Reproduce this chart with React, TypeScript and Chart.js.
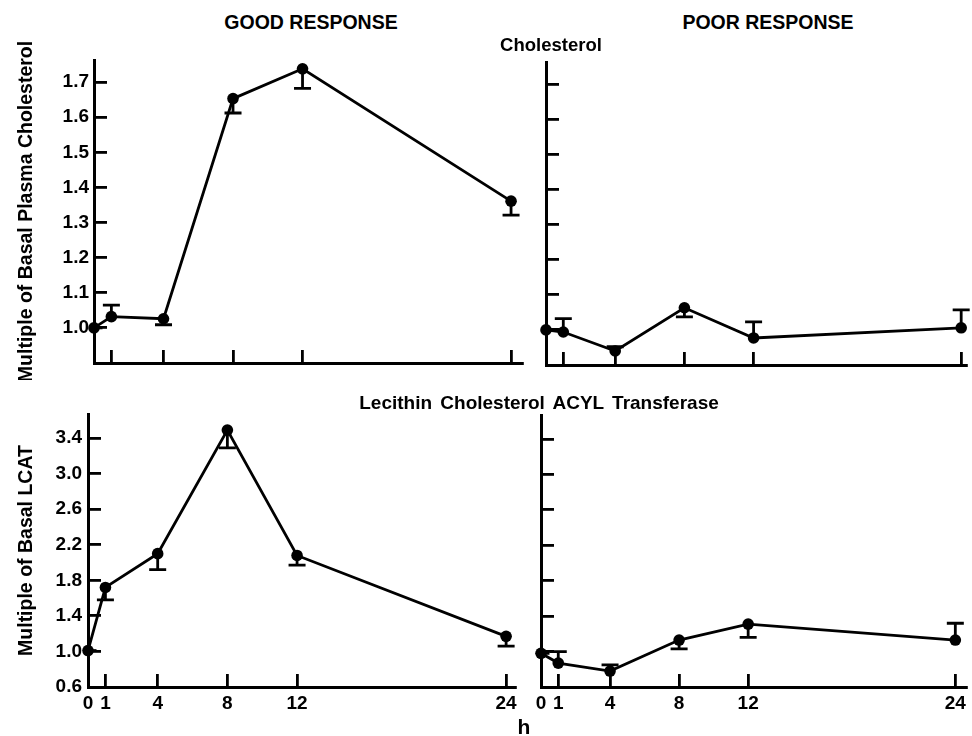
import React, { useEffect, useRef } from "react";
import { Chart, registerables } from "chart.js";

Chart.register(...registerables);

const FONT = "'Liberation Sans', Arial, Helvetica, sans-serif";

// ---- data ----
const hours = [0, 1, 4, 8, 12, 24];
const hourTicks = [0, 1, 4, 8, 12, 24];
const cholTicks = [1.0, 1.1, 1.2, 1.3, 1.4, 1.5, 1.6, 1.7];
const lcatTicks = [0.6, 1.0, 1.4, 1.8, 2.2, 2.6, 3.0, 3.4];

const cholGood = [1.0, 1.032, 1.026, 1.653, 1.738, 1.361];
const cholGoodErr = [0, 0.033, -0.017, -0.041, -0.056, -0.04];
const cholPoor = [1.0, 0.994, 0.94, 1.063, 0.977, 1.006];
const cholPoorErr = [0, 0.038, 0.012, -0.026, 0.046, 0.051];
const lcatGood = [1.01, 1.72, 2.1, 3.49, 2.08, 1.17];
const lcatGoodErr = [0, -0.14, -0.18, -0.2, -0.11, -0.11];
const lcatPoor = [0.98, 0.87, 0.78, 1.13, 1.31, 1.13];
const lcatPoorErr = [0, 0.13, 0.07, -0.1, -0.15, 0.19];

type Panel = {
  left: number; top: number; width: number; height: number;
  yAxisWidth: number; xAxisHeight: number; padTop: number; padRight: number;
  xMax: number; yMin: number; yMax: number; yTicks: number[];
  values: number[]; errors: number[];
  showYLabels: boolean; showXLabels: boolean; yTitle?: string;
  yLabelPad: number;
};

const panels: Panel[] = [
  {
    left: 0, top: 40, width: 535, height: 340, yAxisWidth: 94, xAxisHeight: 17, padTop: 20, padRight: 13,
    xMax: 24.63, yMin: 0.9, yMax: 1.763, yTicks: cholTicks, values: cholGood, errors: cholGoodErr,
    showYLabels: true, showXLabels: false, yTitle: "Multiple of Basal Plasma Cholesterol", yLabelPad: 18,
  },
  {
    left: 520, top: 42, width: 452, height: 338, yAxisWidth: 26, xAxisHeight: 15, padTop: 20, padRight: 1,
    xMax: 24.29, yMin: 0.9, yMax: 1.763, yTicks: cholTicks, values: cholPoor, errors: cholPoorErr,
    showYLabels: false, showXLabels: false, yLabelPad: 18,
  },
  {
    left: 0, top: 394, width: 530, height: 342, yAxisWidth: 88, xAxisHeight: 49, padTop: 20, padRight: 15,
    xMax: 24.51, yMin: 0.6, yMax: 3.671, yTicks: lcatTicks, values: lcatGood, errors: lcatGoodErr,
    showYLabels: true, showXLabels: true, yTitle: "Multiple of Basal LCAT", yLabelPad: 19,
  },
  {
    left: 520, top: 395, width: 452, height: 341, yAxisWidth: 21, xAxisHeight: 49, padTop: 20, padRight: 2,
    xMax: 24.63, yMin: 0.6, yMax: 3.671, yTicks: lcatTicks, values: lcatPoor, errors: lcatPoorErr,
    showYLabels: false, showXLabels: true, yLabelPad: 19,
  },
];

function makeErrorPlugin(errors: number[]) {
  return {
    id: "errorBars",
    afterDatasetsDraw(chart: any) {
      const { ctx, chartArea, scales } = chart;
      const ds = chart.data.datasets[0].data as { x: number; y: number }[];
      ctx.save();
      ctx.beginPath();
      ctx.rect(chartArea.left, chartArea.top - 30, chartArea.right - chartArea.left + 30, chartArea.bottom - chartArea.top + 60);
      ctx.clip();
      ctx.strokeStyle = "#000";
      ctx.lineWidth = 2.8;
      ctx.lineCap = "butt";
      ds.forEach((p, i) => {
        const x = scales.x.getPixelForValue(p.x);
        const y0 = scales.y.getPixelForValue(p.y);
        const y1 = scales.y.getPixelForValue(p.y + errors[i]);
        ctx.beginPath();
        ctx.moveTo(x, y0);
        ctx.lineTo(x, y1);
        ctx.moveTo(x - 8.5, y1);
        ctx.lineTo(x + 8.5, y1);
        ctx.stroke();
      });
      ctx.restore();
    },
  };
}

function PanelChart({ p }: { p: Panel }) {
  const ref = useRef<HTMLCanvasElement | null>(null);
  useEffect(() => {
    if (!ref.current) return;
    const zeroPad = (s: any) => {
      s.paddingLeft = 0; s.paddingRight = 0; s.paddingTop = 0; s.paddingBottom = 0;
    };
    const chart = new Chart(ref.current, {
      type: "line",
      data: {
        datasets: [
          {
            data: hours.map((h, i) => ({ x: h, y: p.values[i] })),
            borderColor: "#000",
            backgroundColor: "#000",
            borderWidth: 2.8,
            pointRadius: 5.8,
            pointBackgroundColor: "#000",
            pointBorderColor: "#000",
            pointBorderWidth: 0,
            tension: 0,
            clip: false as any,
          },
        ],
      },
      options: {
        responsive: false,
        animation: false,
        events: [],
        layout: { padding: { left: 0, top: p.padTop, right: p.padRight, bottom: 0 } },
        plugins: { legend: { display: false }, tooltip: { enabled: false }, title: { display: false } },
        scales: {
          x: {
            type: "linear",
            min: 0,
            max: p.xMax,
            afterBuildTicks: (s: any) => { s.ticks = hourTicks.map((v) => ({ value: v })); },
            afterFit: (s: any) => { s.height = p.xAxisHeight; zeroPad(s); },
            grid: { drawOnChartArea: false, drawTicks: true, tickLength: -13, color: "#000", lineWidth: 2.8 },
            border: { display: true, color: "#000", width: 3 },
            ticks: {
              display: p.showXLabels,
              padding: 18,
              color: "#000",
              autoSkip: false,
              maxRotation: 0,
              font: { family: FONT, size: 19, weight: "bold" },
              callback: (v: any) => String(v),
            },
          },
          y: {
            type: "linear",
            min: p.yMin,
            max: p.yMax,
            afterBuildTicks: (s: any) => { s.ticks = p.yTicks.map((v) => ({ value: v })); },
            afterFit: (s: any) => { s.width = p.yAxisWidth; zeroPad(s); },
            grid: { drawOnChartArea: false, drawTicks: true, tickLength: -13, color: "#000", lineWidth: 2.8 },
            border: { display: true, color: "#000", width: 3 },
            title: {
              display: !!p.yTitle,
              text: p.yTitle || "",
              color: "#000",
              font: { family: FONT, size: 19.5, weight: "bold" },
              padding: { top: 15, bottom: 0 },
            },
            ticks: {
              display: p.showYLabels,
              padding: p.yLabelPad,
              color: "#000",
              autoSkip: false,
              font: { family: FONT, size: 19, weight: "bold" },
              callback: (v: any) => Number(v).toFixed(1),
            },
          },
        },
      } as any,
      plugins: [makeErrorPlugin(p.errors)],
    });
    return () => chart.destroy();
  }, [p]);
  return (
    <canvas
      ref={ref}
      width={p.width}
      height={p.height}
      style={{ position: "absolute", left: p.left, top: p.top, width: p.width, height: p.height }}
    />
  );
}

function Label({ x, y, size, text, spacing }: { x: number; y: number; size: number; text: string; spacing?: number }) {
  return (
    <div
      style={{
        position: "absolute",
        left: x,
        top: y,
        transform: "translate(-50%, -50%)",
        fontFamily: FONT,
        fontWeight: "bold",
        fontSize: size,
        lineHeight: 1,
        whiteSpace: "nowrap",
        color: "#000",
        wordSpacing: spacing || 0,
      }}
    >
      {text}
    </div>
  );
}

export default function App() {
  return (
    <div style={{ position: "absolute", left: 0, top: 0, width: 972, height: 736, overflow: "hidden", background: "#fff" }}>
      {panels.map((p, i) => (
        <PanelChart key={i} p={p} />
      ))}
      <Label x={311} y={23} size={19.5} text="GOOD RESPONSE" />
      <Label x={768} y={23} size={19.5} text="POOR RESPONSE" />
      <Label x={551} y={45} size={18.5} text="Cholesterol" />
      <Label x={539} y={402} size={19} text="Lecithin Cholesterol ACYL Transferase" spacing={3} />
      <Label x={524} y={726} size={21} text="h" />
    </div>
  );
}
